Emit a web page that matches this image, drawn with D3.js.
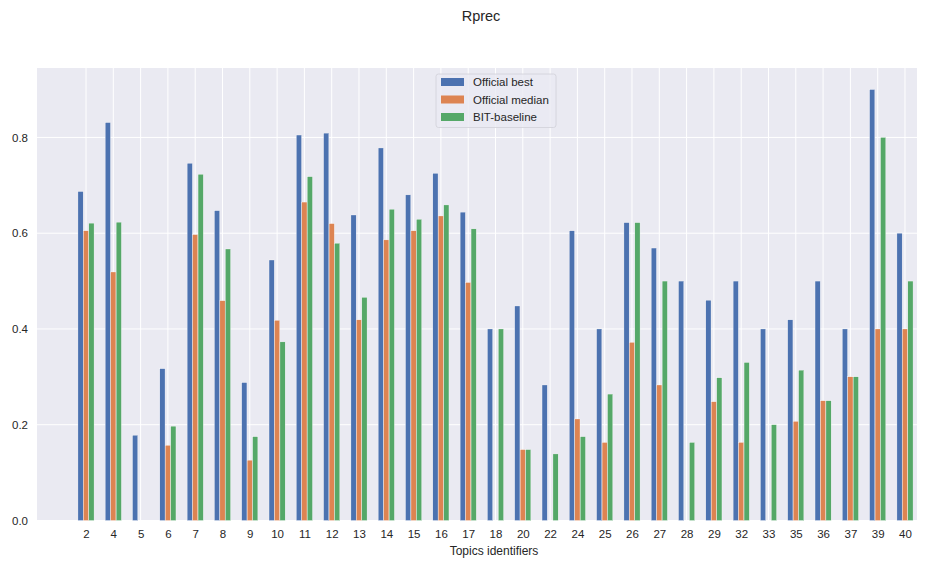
<!DOCTYPE html>
<html>
<head>
<meta charset="utf-8">
<script src="https://cdn.jsdelivr.net/npm/d3@7"></script>
<style>
  html, body { margin: 0; padding: 0; background: #ffffff; }
  svg { display: block; font-family: "Liberation Sans", Arial, sans-serif; }
</style>
</head>
<body>
<svg id="chart" width="925" height="563"></svg>
<script>
// Topic identifiers on the x axis
const topics = ["2","4","5","6","7","8","9","10","11","12","13","14","15","16","17","18","20","22","24","25","26","27","28","29","32","33","35","36","37","39","40"];

// Rprec per topic
const officialBest   = [0.687,0.831,0.178,0.317,0.746,0.647,0.288,0.544,0.805,0.809,0.638,0.778,0.680,0.725,0.644,0.400,0.448,0.283,0.605,0.400,0.622,0.569,0.500,0.460,0.500,0.400,0.419,0.500,0.400,0.900,0.600];
const officialMedian = [0.605,0.519,0,0.157,0.597,0.459,0.126,0.418,0.665,0.620,0.419,0.586,0.605,0.636,0.497,0,0.148,0,0.212,0.163,0.372,0.283,0,0.248,0.163,0,0.207,0.250,0.300,0.400,0.400];
const bitBaseline    = [0.621,0.623,0,0.197,0.723,0.567,0.175,0.373,0.718,0.579,0.466,0.650,0.629,0.659,0.609,0.400,0.148,0.139,0.175,0.264,0.622,0.500,0.163,0.298,0.330,0.200,0.314,0.250,0.300,0.800,0.500];

const seriesNames  = ["Official best","Official median","BIT-baseline"];
const seriesColors = ["#4C72B0","#DD8452","#55A868"];
const yTicks = [0.0, 0.2, 0.4, 0.6, 0.8];

const series = [officialBest, officialMedian, bitBaseline];

const svg = d3.select("#chart");
const plot = { left: 37, right: 917, top: 68, bottom: 520.5 };

// Numeric x position per topic index; bars sit at index-0.2, index, index+0.2
const x = d3.scaleLinear().domain([-1.795, 30.44]).range([plot.left, plot.right]);
const y = d3.scaleLinear().domain([0, 0.945]).range([plot.bottom, plot.top]);
const barW = 0.19;
const offsets = [-0.2, 0, 0.2];

// Axes background
svg.append("rect")
  .attr("x", plot.left).attr("y", plot.top)
  .attr("width", plot.right - plot.left).attr("height", plot.bottom - plot.top)
  .attr("fill", "#EAEAF2");

// Grid lines
const grid = svg.append("g");
grid.selectAll("line.v").data(topics).join("line")
  .attr("x1", (d, i) => x(i)).attr("x2", (d, i) => x(i))
  .attr("y1", plot.top).attr("y2", plot.bottom)
  .attr("stroke", "#ffffff").attr("stroke-width", 1);
grid.selectAll("line.h").data(yTicks).join("line")
  .attr("x1", plot.left).attr("x2", plot.right)
  .attr("y1", d => y(d)).attr("y2", d => y(d))
  .attr("stroke", "#ffffff").attr("stroke-width", 1);

// Bars
series.forEach((vals, s) => {
  svg.append("g").selectAll("rect").data(vals).join("rect")
    .attr("x", (d, i) => x(i + offsets[s] - barW / 2))
    .attr("width", x(barW) - x(0))
    .attr("y", d => y(d))
    .attr("height", d => y(0) - y(d))
    .attr("fill", seriesColors[s])
    .attr("stroke", "#ffffff").attr("stroke-width", 0.3);
});

// Y axis labels
const yAxis = d3.axisLeft(y).tickValues(yTicks).tickFormat(d3.format(".1f")).tickSize(0).tickPadding(9);
const gy = svg.append("g").attr("transform", `translate(${plot.left},0)`).call(yAxis);
gy.select(".domain").remove();
gy.selectAll("text").attr("font-size", 11.5).attr("fill", "#262626")
  .attr("font-family", "'Liberation Sans', Arial, sans-serif");

// X axis labels
const xBand = d3.scaleOrdinal().domain(topics).range(topics.map((t, i) => x(i)));
const xAxis = d3.axisBottom(xBand).tickSize(0).tickPadding(9);
const gx = svg.append("g").attr("transform", `translate(0,${plot.bottom})`).call(xAxis);
gx.select(".domain").remove();
gx.selectAll("text").attr("font-size", 11.5).attr("fill", "#262626")
  .attr("font-family", "'Liberation Sans', Arial, sans-serif");

// Axis title and chart title
svg.append("text")
  .attr("x", 494).attr("y", 555)
  .attr("text-anchor", "middle").attr("font-size", 12).attr("fill", "#262626")
  .text("Topics identifiers");

svg.append("text")
  .attr("x", 481).attr("y", 21)
  .attr("text-anchor", "middle").attr("font-size", 14.5).attr("fill", "#262626")
  .text("Rprec");

// Legend
const legend = svg.append("g").attr("transform", "translate(436,74)");
legend.append("rect")
  .attr("width", 120).attr("height", 53.5).attr("rx", 2.5)
  .attr("fill", "#EAEAF2").attr("fill-opacity", 0.8)
  .attr("stroke", "#d0d0d8").attr("stroke-width", 0.8);
seriesNames.forEach((name, i) => {
  const row = legend.append("g").attr("transform", `translate(0,${8 + i * 17.5})`);
  row.append("rect").attr("x", 5).attr("y", -4).attr("width", 23).attr("height", 8)
    .attr("fill", seriesColors[i]);
  row.append("text").attr("x", 37).attr("y", 4)
    .attr("font-size", 11.5).attr("fill", "#262626").text(name);
});
</script>
</body>
</html>
